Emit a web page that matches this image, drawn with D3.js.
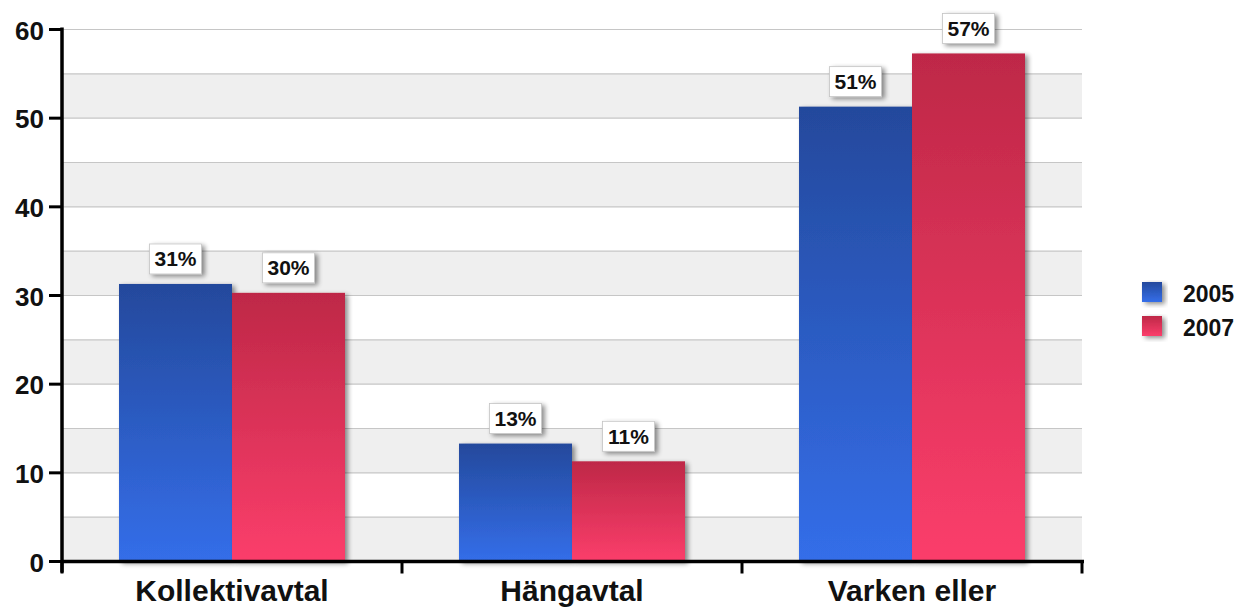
<!DOCTYPE html>
<html>
<head>
<meta charset="utf-8">
<script src="https://cdn.jsdelivr.net/npm/d3@7"></script>
<style>
  body { margin: 0; background: #fff; }
  text { font-family: "Liberation Sans", Arial, sans-serif; font-weight: bold; fill: #111; }
</style>
</head>
<body>
<script>
// data
var categories = ['Kollektivavtal', 'Hängavtal', 'Varken eller'];
var years = ['2005', '2007'];
var values2005 = [31.3, 13.3, 51.3];
var values2007 = [30.3, 11.3, 57.3];
var labels2005 = ['31%', '13%', '51%'];
var labels2007 = ['30%', '11%', '57%'];
var yTicks = [0, 10, 20, 30, 40, 50, 60];

var svg = d3.select('body').append('svg')
    .attr('width', 1245)
    .attr('height', 607);

var plotLeft = 62, plotRight = 1082, plotTop = 29.5, plotBottom = 561.5;

var x = d3.scaleBand().domain(categories).range([plotLeft, plotRight]);
// two bars of 113px in a 340px category
var x1 = d3.scaleBand().domain(years).range([57, 283]);
var y = d3.scaleLinear().domain([0, 60]).range([plotBottom, plotTop]);

var defs = svg.append('defs');
var gBlue = defs.append('linearGradient').attr('id', 'gBlue').attr('x1', 0).attr('y1', 0).attr('x2', 0).attr('y2', 1);
gBlue.append('stop').attr('offset', '0%').attr('stop-color', '#24499c');
gBlue.append('stop').attr('offset', '100%').attr('stop-color', '#346ee9');
var gRed = defs.append('linearGradient').attr('id', 'gRed').attr('x1', 0).attr('y1', 0).attr('x2', 0).attr('y2', 1);
gRed.append('stop').attr('offset', '0%').attr('stop-color', '#be2847');
gRed.append('stop').attr('offset', '100%').attr('stop-color', '#fb3e6b');

var shadow = defs.append('filter').attr('id', 'shadow').attr('x', '-20%').attr('y', '-20%').attr('width', '150%').attr('height', '150%');
shadow.append('feGaussianBlur').attr('in', 'SourceAlpha').attr('stdDeviation', 2.5).attr('result', 'blur');
shadow.append('feOffset').attr('in', 'blur').attr('dx', 3).attr('dy', 2).attr('result', 'off');
shadow.append('feComponentTransfer').attr('in', 'off').attr('result', 'off2')
  .append('feFuncA').attr('type', 'linear').attr('slope', 0.45);
var merge = shadow.append('feMerge');
merge.append('feMergeNode').attr('in', 'off2');
merge.append('feMergeNode').attr('in', 'SourceGraphic');

// bands, every other 5 units
var bands = [0, 10, 20, 30, 40, 50];
svg.selectAll('.band').data(bands).enter().append('rect')
    .attr('x', plotLeft)
    .attr('y', function(d) { return y(d + 5); })
    .attr('width', plotRight - plotLeft)
    .attr('height', function(d) { return y(d) - y(d + 5); })
    .attr('fill', '#efefef');

// grid
svg.selectAll('.grid').data(d3.range(5, 61, 5)).enter().append('line')
    .attr('x1', plotLeft)
    .attr('x2', plotRight)
    .attr('y1', function(d) { return y(d); })
    .attr('y2', function(d) { return y(d); })
    .attr('stroke', '#c6c6c6')
    .attr('stroke-width', 1.2);

// bars
var flat = [];
categories.forEach(function(c, i) {
  flat.push({cat: c, year: '2005', v: values2005[i], label: labels2005[i], fill: 'url(#gBlue)'});
  flat.push({cat: c, year: '2007', v: values2007[i], label: labels2007[i], fill: 'url(#gRed)'});
});

svg.selectAll('.bar').data(flat).enter().append('rect')
    .attr('x', function(d) { return x(d.cat) + x1(d.year); })
    .attr('y', function(d) { return y(d.v); })
    .attr('width', x1.bandwidth())
    .attr('height', function(d) { return y(0) - y(d.v); })
    .attr('fill', function(d) { return d.fill; })
    .attr('filter', 'url(#shadow)');

// value labels
var lab = svg.selectAll('.lab').data(flat).enter().append('g')
    .attr('transform', function(d) {
      return 'translate(' + (x(d.cat) + x1(d.year) + x1.bandwidth() / 2) + ',' + (y(d.v) - 25) + ')';
    });
lab.append('rect')
    .attr('x', -26).attr('y', -15)
    .attr('width', 52).attr('height', 30)
    .attr('fill', '#fff')
    .attr('stroke', '#c4c4c4')
    .attr('stroke-width', 0.8)
    .attr('filter', 'url(#shadow)');
lab.append('text')
    .attr('x', 0).attr('y', 7.5)
    .attr('text-anchor', 'middle')
    .attr('font-size', 21)
    .text(function(d) { return d.label; });

// y axis
svg.append('line')
    .attr('x1', plotLeft).attr('x2', plotLeft)
    .attr('y1', plotTop - 2).attr('y2', plotBottom + 11)
    .attr('stroke', '#000').attr('stroke-width', 3.5);
svg.selectAll('.yt').data(yTicks).enter().append('line')
    .attr('x1', plotLeft - 13).attr('x2', plotLeft)
    .attr('y1', function(d) { return y(d); })
    .attr('y2', function(d) { return y(d); })
    .attr('stroke', '#000').attr('stroke-width', 3);
svg.selectAll('.yl').data(yTicks).enter().append('text')
    .attr('x', plotLeft - 18)
    .attr('y', function(d) { return y(d) + 10; })
    .attr('text-anchor', 'end')
    .attr('font-size', 26)
    .text(function(d) { return d; });

// x axis
svg.append('line')
    .attr('x1', plotLeft - 1).attr('x2', plotRight + 2)
    .attr('y1', plotBottom).attr('y2', plotBottom)
    .attr('stroke', '#000').attr('stroke-width', 3.5);
var xTickPos = categories.map(function(c) { return x(c); }).concat([plotRight]);
svg.selectAll('.xt').data(xTickPos).enter().append('line')
    .attr('x1', function(d) { return d; })
    .attr('x2', function(d) { return d; })
    .attr('y1', plotBottom).attr('y2', plotBottom + 12)
    .attr('stroke', '#000').attr('stroke-width', 3);
svg.selectAll('.xl').data(categories).enter().append('text')
    .attr('x', function(d) { return x(d) + x.bandwidth() / 2; })
    .attr('y', 601)
    .attr('text-anchor', 'middle')
    .attr('font-size', 30)
    .text(function(d) { return d; });

// legend
var legColors = ['url(#gBlue)', 'url(#gRed)'];
var leg = svg.selectAll('.leg').data(years).enter().append('g')
    .attr('transform', function(d, i) { return 'translate(1142,' + (282 + i * 34) + ')'; });
leg.append('rect')
    .attr('width', 20).attr('height', 20)
    .attr('fill', function(d, i) { return legColors[i]; })
    .attr('filter', 'url(#shadow)');
leg.append('text')
    .attr('x', 41).attr('y', 19.5)
    .attr('font-size', 23)
    .text(function(d) { return d; });
</script>
</body>
</html>
